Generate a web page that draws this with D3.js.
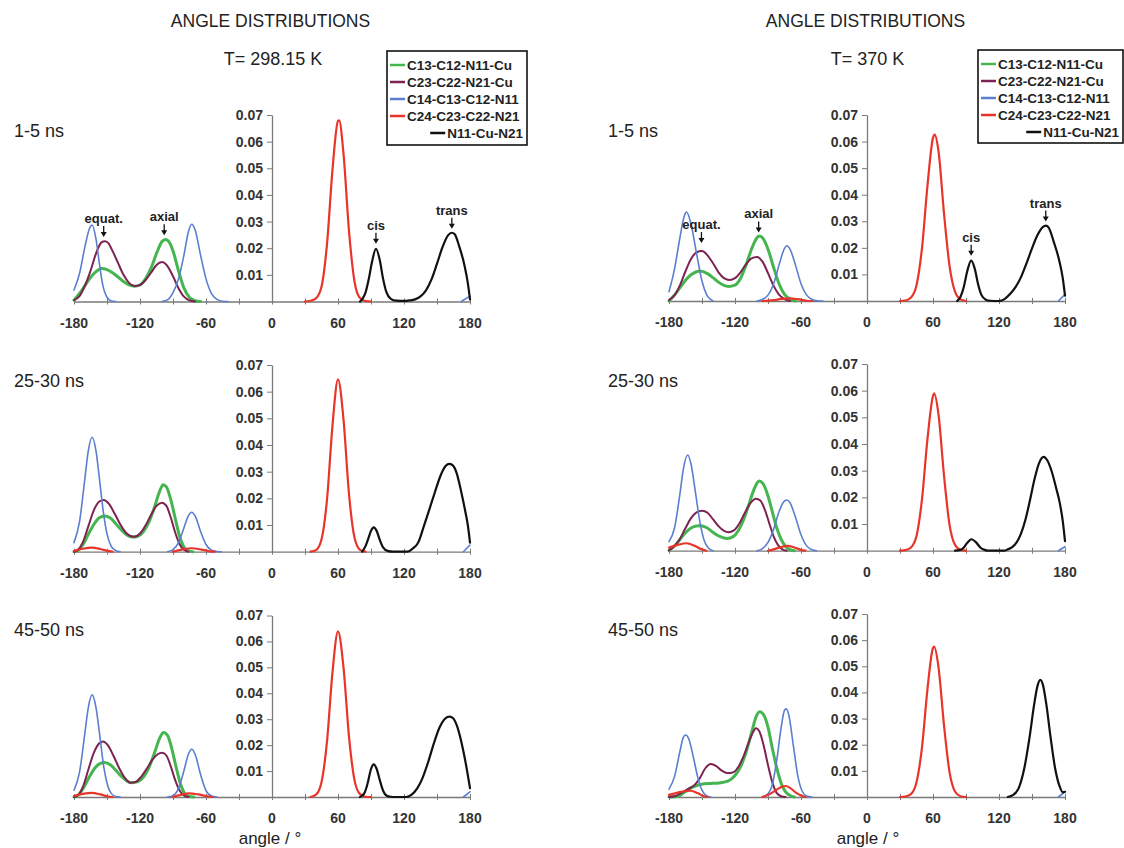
<!DOCTYPE html>
<html><head><meta charset="utf-8">
<script src="https://cdn.jsdelivr.net/npm/d3@7"></script>
<style>body{margin:0;background:#fff}svg{display:block}text{font-family:"Liberation Sans",Arial,sans-serif}</style>
</head><body><svg id="c" width="1124" height="848"></svg>
<script>
// ---------- labels / categories ----------
const mainTitle = "ANGLE DISTRIBUTIONS";
const temperatures = ["T= 298.15 K", "T= 370 K"];
const timeWindows = ["1-5 ns", "25-30 ns", "45-50 ns"];
const seriesNames = ["C13-C12-N11-Cu", "C23-C22-N21-Cu", "C14-C13-C12-N11", "C24-C23-C22-N21", "N11-Cu-N21"];
const seriesKeys = ["green", "purple", "blue", "red", "black"];
const xTickValues = [-180, -150, -120, -90, -60, -30, 0, 30, 60, 90, 120, 150, 180];
const xLabelValues = [-180, -120, -60, 0, 60, 120, 180];
const yTickValues = [0.01, 0.02, 0.03, 0.04, 0.05, 0.06, 0.07];
const xLabel = "angle / °";

// ---------- data: [angle, probability], segments ----------
// T=298.15 K, 1-5 ns
const L1_green = [[[-180,0.0005],[-175,0.003],[-170,0.006],[-165,0.009],[-160,0.0112],[-155,0.0124],[-150,0.012],[-145,0.0108],[-140,0.0092],[-135,0.0075],[-130,0.0062],[-125,0.0057],[-120,0.0062],[-115,0.0085],[-110,0.0125],[-105,0.018],[-100,0.0225],[-97,0.0233],[-94,0.0226],[-90,0.019],[-85,0.0115],[-80,0.005],[-75,0.0015],[-70,0.0003],[-65,0]]];
const L1_purple = [[[-180,0.0005],[-175,0.002],[-170,0.006],[-165,0.0115],[-160,0.018],[-155,0.0222],[-152,0.0226],[-149,0.022],[-145,0.019],[-140,0.0145],[-135,0.01],[-130,0.007],[-125,0.0058],[-120,0.0062],[-115,0.008],[-110,0.0108],[-105,0.0137],[-100,0.0148],[-96,0.0138],[-90,0.0095],[-85,0.005],[-80,0.0018],[-75,0.0004],[-70,0]]];
const L1_blue = [[[-180,0.0043],[-175,0.0105],[-170,0.0207],[-166,0.0273],[-163.5,0.0287],[-160,0.0234],[-157,0.0145],[-154,0.0065],[-150,0.0016],[-146,0.0002],[-142,0]],
  [[-100,0],[-95,0.0006],[-90,0.0033],[-85,0.0085],[-80,0.0175],[-76,0.0262],[-73,0.029],[-70,0.027],[-65,0.0175],[-60,0.0085],[-55,0.003],[-50,0.0008],[-45,0.0001],[-40,0]],
  [[172,0],[180,0.002]]];
const L1_red = [[[30,0],[35,0.0003],[40,0.0012],[45,0.0055],[50,0.0215],[55,0.0495],[60,0.0678],[61,0.068],[65,0.0555],[70,0.0265],[75,0.0075],[80,0.0013],[85,0.0002],[90,0]]];
const L1_black = [[[80,0],[82,0.0009],[85,0.0033],[88,0.0085],[91,0.015],[94.5,0.0198],[98,0.0155],[101,0.0085],[104,0.0035],[108,0.001],[113,0.0003],[120,0.0002],[125,0.0004],[130,0.0008],[135,0.0019],[140,0.0042],[145,0.0083],[150,0.0142],[155,0.0204],[160,0.0248],[163.5,0.0258],[166,0.0253],[170,0.021],[175,0.0135],[178,0.007],[180,0.0008]]];
const L1_notes = [["equat.",-153,0.0242],["axial",-98,0.0249],["cis",94.5,0.0217],["trans",163.5,0.0273]];

// T=370 K, 1-5 ns
const R1_green = [[[-180,0],[-175,0.0022],[-170,0.005],[-165,0.0078],[-160,0.0099],[-155,0.011],[-152,0.0113],[-145,0.0103],[-140,0.0088],[-135,0.0071],[-130,0.0059],[-126,0.0055],[-120,0.006],[-115,0.0085],[-110,0.0135],[-105,0.0195],[-100,0.0238],[-98,0.0245],[-95,0.0238],[-90,0.0195],[-85,0.0128],[-80,0.0065],[-75,0.0025],[-70,0.0007],[-65,0]]];
const R1_purple = [[[-180,0.0003],[-175,0.0022],[-170,0.006],[-165,0.0112],[-160,0.0158],[-155,0.0183],[-150,0.0188],[-145,0.0172],[-140,0.0142],[-135,0.0108],[-130,0.0086],[-125,0.0079],[-120,0.0086],[-115,0.0108],[-110,0.0138],[-105,0.016],[-100,0.0166],[-95,0.0148],[-90,0.0105],[-85,0.0058],[-80,0.0024],[-75,0.0007],[-70,0]]];
const R1_blue = [[[-180,0.0035],[-175,0.012],[-170,0.024],[-166,0.0322],[-164,0.0335],[-160,0.029],[-155,0.018],[-150,0.0075],[-145,0.0018],[-140,0]],
  [[-100,0],[-95,0.0006],[-90,0.0022],[-85,0.0063],[-80,0.0135],[-75,0.0198],[-73,0.0208],[-70,0.0195],[-65,0.0135],[-60,0.0065],[-55,0.0023],[-50,0.0006],[-45,0.0001],[-40,0]],
  [[174,0],[180,0.0025]]];
const R1_red = [[[-95,0],[-85,0.0003],[-78,0.0008],[-70,0.001],[-63,0.0007],[-55,0.0001],[-50,0]],
  [[30,0],[35,0.0002],[40,0.0013],[45,0.0059],[50,0.0199],[55,0.0435],[60,0.0614],[61.5,0.0626],[65,0.0564],[70,0.033],[75,0.0133],[80,0.0035],[85,0.0006],[90,0]]];
const R1_black = [[[82,0],[85,0.0016],[88,0.0053],[91,0.011],[94.7,0.0152],[98,0.0121],[101,0.0063],[104,0.0023],[108,0.0005],[112,0.0001],[120,0],[125,0.0007],[130,0.0026],[135,0.0052],[140,0.009],[145,0.0142],[150,0.0198],[155,0.0248],[160,0.0279],[162.5,0.0284],[165,0.0277],[170,0.022],[175,0.0148],[178,0.0085],[180,0.002]]];
const R1_notes = [["equat.",-150.5,0.0218],["axial",-98.5,0.0258],["cis",94.7,0.017],["trans",162.5,0.0299]];

// T=298.15 K, 25-30 ns
const L2_green = [[[-180,0],[-177,0.0003],[-172,0.0025],[-167,0.0065],[-162,0.0102],[-157,0.0127],[-152,0.0134],[-147,0.0126],[-142,0.0105],[-137,0.0082],[-132,0.0063],[-127,0.0055],[-122,0.0058],[-117,0.0075],[-112,0.011],[-107,0.0165],[-102,0.0228],[-99,0.0251],[-96,0.0243],[-92,0.0195],[-88,0.0125],[-84,0.0058],[-80,0.0017],[-76,0.0003],[-72,0]]];
const L2_purple = [[[-180,0],[-177,0.0005],[-172,0.0035],[-167,0.0095],[-162,0.0155],[-157,0.0188],[-153,0.0194],[-148,0.0178],[-143,0.0142],[-138,0.0103],[-133,0.0072],[-128,0.0058],[-125,0.0056],[-120,0.0068],[-115,0.0098],[-110,0.0138],[-105,0.0172],[-100,0.0184],[-96,0.0172],[-92,0.0128],[-88,0.0072],[-84,0.0028],[-80,0.0007],[-76,0]]];
const L2_blue = [[[-180,0.0034],[-175,0.0112],[-170,0.0278],[-167,0.0378],[-163.5,0.0429],[-160,0.0378],[-157,0.0278],[-153,0.0139],[-150,0.0067],[-146,0.0019],[-142,0.0004],[-138,0]],
  [[-95,0],[-90,0.0008],[-85,0.0034],[-80,0.009],[-76,0.0135],[-73,0.0148],[-70,0.0135],[-65,0.0077],[-60,0.0027],[-55,0.0006],[-50,0.0001],[-46,0]],
  [[174,0],[180,0.0025]]];
const L2_red = [[[-180,0.0003],[-172,0.0011],[-164,0.0015],[-156,0.001],[-148,0.0002],[-145,0]],
  [[-90,0],[-82,0.0008],[-73,0.0013],[-64,0.0008],[-56,0.0001],[-52,0]],
  [[35,0],[40,0.0006],[45,0.0046],[50,0.0195],[55,0.0474],[60,0.0646],[65,0.0496],[70,0.0216],[75,0.0053],[80,0.0007],[85,0]]];
const L2_black = [[[82,0],[85,0.0021],[88,0.0055],[90,0.0078],[92.6,0.0091],[95,0.0079],[98,0.0044],[101,0.0016],[105,0.0003],[110,0],[123,0],[128,0.0012],[133,0.0035],[138,0.0095],[143,0.0158],[148,0.0222],[153,0.0283],[158,0.0322],[161,0.0329],[164,0.0325],[168,0.0293],[172,0.0225],[176,0.0145],[178,0.01],[180,0.0034]]];

// T=370 K, 25-30 ns
const R2_green = [[[-180,0.0001],[-175,0.0018],[-170,0.0042],[-165,0.0067],[-160,0.0085],[-155,0.0093],[-151,0.0094],[-146,0.0087],[-141,0.0072],[-136,0.0058],[-131,0.0049],[-127,0.0046],[-122,0.0052],[-117,0.0075],[-112,0.0118],[-107,0.0178],[-102,0.0237],[-98,0.0261],[-94,0.0248],[-90,0.0205],[-86,0.0145],[-82,0.0085],[-78,0.0042],[-74,0.0016],[-70,0.0004],[-66,0]]];
const R2_purple = [[[-180,0.0001],[-175,0.0017],[-170,0.0045],[-165,0.0085],[-160,0.0122],[-155,0.0144],[-150,0.015],[-145,0.0142],[-140,0.0118],[-135,0.0092],[-130,0.0074],[-126,0.0069],[-121,0.0076],[-116,0.0102],[-111,0.0142],[-106,0.0178],[-101,0.0195],[-97,0.0188],[-93,0.0155],[-89,0.0105],[-85,0.0055],[-81,0.0022],[-77,0.0005],[-73,0]]];
const R2_blue = [[[-180,0.0034],[-175,0.0085],[-170,0.0215],[-167,0.0305],[-163,0.0359],[-160,0.0325],[-156,0.022],[-152,0.011],[-148,0.0038],[-144,0.0009],[-140,0]],
  [[-100,0],[-95,0.0008],[-90,0.0031],[-85,0.0079],[-80,0.0146],[-76,0.0182],[-73,0.019],[-70,0.018],[-65,0.0125],[-60,0.006],[-55,0.0019],[-50,0.0004],[-46,0]],
  [[174,0],[180,0.0015]]];
const R2_red = [[[-180,0.0012],[-172,0.0022],[-164,0.0028],[-157,0.0019],[-151,0.0006],[-146,0]],
  [[-90,0],[-84,0.0006],[-78,0.0014],[-72,0.0018],[-66,0.0012],[-60,0.0003],[-56,0]],
  [[30,0],[35,0.0002],[40,0.0012],[45,0.0055],[50,0.0193],[55,0.042],[60,0.058],[61,0.059],[65,0.0511],[70,0.0282],[75,0.0098],[80,0.0022],[85,0.0003],[90,0]]];
const R2_black = [[[80,0],[85,0.0003],[88,0.0012],[91,0.0029],[95,0.0043],[99,0.0032],[103,0.0012],[107,0.0003],[110,0],[125,0],[128,0.0005],[132,0.0013],[136,0.0031],[140,0.0064],[144,0.0116],[148,0.0186],[152,0.0263],[156,0.0324],[160.5,0.0352],[164,0.0338],[168,0.0296],[172,0.0234],[175,0.0184],[178,0.011],[180,0.0036]]];

// T=298.15 K, 45-50 ns
const L3_green = [[[-180,0],[-176,0.0008],[-171,0.0038],[-166,0.0078],[-161,0.0112],[-156,0.013],[-152,0.0133],[-147,0.0124],[-142,0.0103],[-137,0.008],[-132,0.0062],[-127,0.0055],[-122,0.0059],[-117,0.0076],[-112,0.0112],[-107,0.0168],[-102,0.0228],[-98.6,0.0249],[-95,0.0238],[-91,0.0185],[-87,0.0112],[-83,0.0048],[-79,0.0012],[-75,0.0002],[-71,0]]];
const L3_purple = [[[-180,0],[-177,0.0005],[-172,0.0038],[-167,0.0105],[-162,0.017],[-157,0.0207],[-153.5,0.0214],[-149,0.0198],[-144,0.0158],[-139,0.0112],[-134,0.0075],[-129,0.0055],[-124,0.0058],[-119,0.0078],[-114,0.0108],[-109,0.0142],[-104,0.0165],[-100,0.0171],[-96,0.016],[-92,0.0118],[-88,0.0065],[-84,0.0025],[-80,0.0006],[-76,0]]];
const L3_blue = [[[-180,0.0026],[-175,0.0095],[-170,0.025],[-167,0.0345],[-163.5,0.0394],[-160,0.0345],[-157,0.0252],[-153,0.0118],[-150,0.0054],[-146,0.0013],[-142,0.0002],[-138,0]],
  [[-95,0],[-90,0.0005],[-85,0.0033],[-80,0.0102],[-76,0.0165],[-73,0.0184],[-70,0.0166],[-65,0.0088],[-60,0.0025],[-55,0.0004],[-50,0]],
  [[174,0],[180,0.002]]];
const L3_red = [[[-180,0.0004],[-172,0.0012],[-164,0.0016],[-156,0.001],[-149,0.0002],[-145,0]],
  [[-90,0],[-83,0.0008],[-75,0.0014],[-67,0.001],[-59,0.0003],[-54,0]],
  [[35,0],[40,0.0009],[45,0.0057],[50,0.0214],[55,0.0482],[60,0.0639],[65,0.05],[70,0.0233],[75,0.0065],[80,0.0011],[85,0.0001],[90,0]]];
const L3_black = [[[80,0],[84,0.0015],[87,0.0054],[90,0.0108],[92.6,0.0126],[95,0.011],[98,0.0065],[101,0.0024],[104,0.0006],[108,0.0001],[112,0],[122,0],[127,0.0009],[132,0.0033],[137,0.0075],[142,0.0135],[147,0.0205],[152,0.0265],[157,0.0301],[161,0.031],[164,0.0306],[168,0.0276],[172,0.0215],[175,0.0155],[178,0.0085],[180,0.0034]]];

// T=370 K, 45-50 ns
const R3_green = [[[-180,0],[-172,0.0003],[-166,0.0018],[-160,0.0035],[-154,0.0045],[-148,0.0051],[-142,0.0052],[-136,0.0053],[-130,0.0057],[-125,0.0064],[-120,0.0082],[-115,0.0115],[-110,0.017],[-105,0.0245],[-101,0.0305],[-97.6,0.0326],[-94,0.0315],[-90,0.0267],[-86,0.0185],[-82,0.011],[-78,0.0052],[-74,0.002],[-70,0.0006],[-66,0]]];
const R3_purple = [[[-180,0],[-174,0.0004],[-168,0.0018],[-162,0.0032],[-157,0.0045],[-152,0.0072],[-147,0.011],[-142,0.0126],[-137,0.0118],[-132,0.0101],[-127,0.0092],[-122,0.0094],[-117,0.0115],[-112,0.0158],[-107,0.0215],[-103,0.0253],[-101,0.0263],[-98,0.0252],[-94,0.0198],[-90,0.0122],[-86,0.0055],[-82,0.0015],[-78,0.0003],[-74,0]]];
const R3_blue = [[[-180,0.003],[-175,0.0078],[-170,0.0176],[-167,0.0228],[-165,0.0237],[-162,0.0222],[-158,0.0155],[-154,0.0078],[-150,0.0026],[-146,0.0005],[-142,0]],
  [[-95,0],[-90,0.0012],[-86,0.0048],[-82,0.0142],[-78,0.0267],[-75,0.0332],[-73.5,0.0337],[-71,0.0312],[-67,0.0198],[-63,0.0083],[-59,0.0023],[-55,0.0004],[-50,0]],
  [[174,0],[180,0.002]]];
const R3_red = [[[-180,0.0008],[-172,0.0017],[-165,0.0023],[-160,0.0024],[-154,0.0015],[-149,0.0004],[-145,0]],
  [[-95,0],[-88,0.0012],[-82,0.0028],[-77,0.004],[-74,0.0042],[-70,0.0035],[-65,0.0018],[-60,0.0006],[-56,0]],
  [[30,0],[35,0.0002],[40,0.0011],[45,0.0056],[50,0.019],[55,0.0414],[60,0.057],[61,0.0575],[65,0.0497],[70,0.0274],[75,0.0096],[80,0.0021],[85,0.0003],[90,0]]];
const R3_black = [[[128,0],[133,0.0008],[138,0.0035],[143,0.011],[148,0.0235],[152,0.0355],[155,0.0425],[157.5,0.0448],[160,0.0428],[163,0.0355],[167,0.0225],[171,0.011],[175,0.0042],[178,0.0018],[180,0.002]]];

const panels = [
  {col:0,row:0,series:[L1_green,L1_purple,L1_blue,L1_red,L1_black],notes:L1_notes},
  {col:1,row:0,series:[R1_green,R1_purple,R1_blue,R1_red,R1_black],notes:R1_notes},
  {col:0,row:1,series:[L2_green,L2_purple,L2_blue,L2_red,L2_black],notes:[]},
  {col:1,row:1,series:[R2_green,R2_purple,R2_blue,R2_red,R2_black],notes:[]},
  {col:0,row:2,series:[L3_green,L3_purple,L3_blue,L3_red,L3_black],notes:[]},
  {col:1,row:2,series:[R3_green,R3_purple,R3_blue,R3_red,R3_black],notes:[]}
];

// ---------- layout & style ----------
const colX = [[74,470],[669,1065]];
const rowY = [[[115,301.5],[365,551.7],[615.5,797]],[[115,301],[364,550.7],[614,797]]];
const colors = {green:"#45b54f", purple:"#7d2352", blue:"#5b7ecf", red:"#e8352a", black:"#111111"};
const widths = {green:3, purple:2, blue:1.6, red:2.2, black:2.2};
const FONT = '"Liberation Sans", Arial, sans-serif';

const svg = d3.select("#c");

// column headers
[0,1].forEach(c=>{
  const cx = c===0 ? 270.5 : 865.5;
  svg.append("text").attr("x",cx).attr("y",27).attr("text-anchor","middle")
    .attr("font-size",17.5).attr("fill","#222").text(mainTitle);
  svg.append("text").attr("x",c===0?273:867.6).attr("y",64.5).attr("text-anchor","middle")
    .attr("font-size",18).attr("fill","#222").text(temperatures[c]);
  svg.append("text").attr("x",c===0?270:868).attr("y",844).attr("text-anchor","middle")
    .attr("font-size",17).attr("fill","#222").text(xLabel);
});

// row labels
const rowLabelY = [130,380,629];
[0,1].forEach(c=>{
  rowLabelY.forEach((y,r)=>{
    svg.append("text").attr("x",c===0?14:608).attr("y",y+6.5)
      .attr("font-size",18).attr("fill","#222").text(timeWindows[r]);
  });
});

panels.forEach(p=>{
  const [x0,x1] = colX[p.col];
  const [yTop,yBase] = rowY[p.col][p.row];
  const x = d3.scaleLinear().domain([-180,180]).range([x0,x1]);
  const y = d3.scaleLinear().domain([0,0.07]).range([yBase,yTop]);
  const g = svg.append("g");

  // x axis
  const xa = d3.axisBottom(x).tickValues(xTickValues).tickSizeInner(3).tickSizeOuter(0).tickFormat("");
  const xg = g.append("g").attr("transform",`translate(0,${yBase})`).call(xa);
  xg.select(".domain").attr("stroke","#7a7a7a").attr("stroke-width",1.3);
  xg.selectAll(".tick line").attr("stroke","#7a7a7a").attr("y1",-3).attr("y2",3);
  xLabelValues.forEach(v=>{
    g.append("text").attr("x",x(v)).attr("y",yBase+26).attr("text-anchor","middle")
      .attr("font-size",14).attr("font-weight","bold").attr("fill","#333").text(v);
  });

  // y axis
  const ya = d3.axisLeft(y).tickValues(yTickValues).tickSizeInner(5).tickSizeOuter(0)
    .tickFormat(d3.format(".2f")).tickPadding(4);
  const yg = g.append("g").attr("transform",`translate(${x(0)},0)`).call(ya);
  yg.select(".domain").attr("stroke","#7a7a7a").attr("stroke-width",1.3);
  yg.selectAll(".tick line").attr("stroke","#7a7a7a");
  yg.selectAll(".tick text").attr("font-size",14).attr("font-weight","bold")
    .attr("font-family",FONT).attr("fill","#333");

  // series
  const line = d3.line().x(d=>x(d[0])).y(d=>y(d[1])).curve(d3.curveMonotoneX);
  p.series.forEach((segs,i)=>{
    const k = seriesKeys[i];
    segs.forEach(seg=>{
      g.append("path").attr("d",line(seg)).attr("fill","none")
        .attr("stroke",colors[k]).attr("stroke-width",widths[k])
        .attr("stroke-linejoin","round").attr("stroke-linecap","round");
    });
  });

  // annotations
  p.notes.forEach(([label,a,v])=>{
    const ax = x(a), tip = y(v);
    g.append("line").attr("x1",ax).attr("x2",ax).attr("y1",tip-11).attr("y2",tip-4)
      .attr("stroke","#111").attr("stroke-width",1.3);
    g.append("path").attr("d",`M${ax-3},${tip-5}L${ax+3},${tip-5}L${ax},${tip}Z`).attr("fill","#111");
    g.append("text").attr("x",ax).attr("y",tip-14).attr("text-anchor","middle")
      .attr("font-size",13).attr("font-weight","bold").attr("fill","#222").text(label);
  });
});

// legends
const legends = [{x:387,y:51,w:140,h:94},{x:978,y:50,w:145,h:93}];
legends.forEach(L=>{
  const lg = svg.append("g");
  lg.append("rect").attr("x",L.x).attr("y",L.y).attr("width",L.w).attr("height",L.h)
    .attr("fill","#fff").attr("stroke","#111").attr("stroke-width",1.6);
  seriesNames.forEach((name,i)=>{
    const k = seriesKeys[i];
    const cy = L.y + 14 + i*17;
    const t = lg.append("text").attr("y",cy+5).attr("font-size",13.5).attr("font-weight","bold")
      .attr("fill","#222").text(name);
    let lx = L.x + 3;
    if (i === 4) {
      const tw = t.node().getComputedTextLength();
      lx = L.x + L.w - 4 - tw - 17;
    }
    t.attr("x", lx + 17);
    lg.append("line").attr("x1",lx).attr("x2",lx+15).attr("y1",cy).attr("y2",cy)
      .attr("stroke",colors[k]).attr("stroke-width",2.5);
  });
});
</script></body></html>
